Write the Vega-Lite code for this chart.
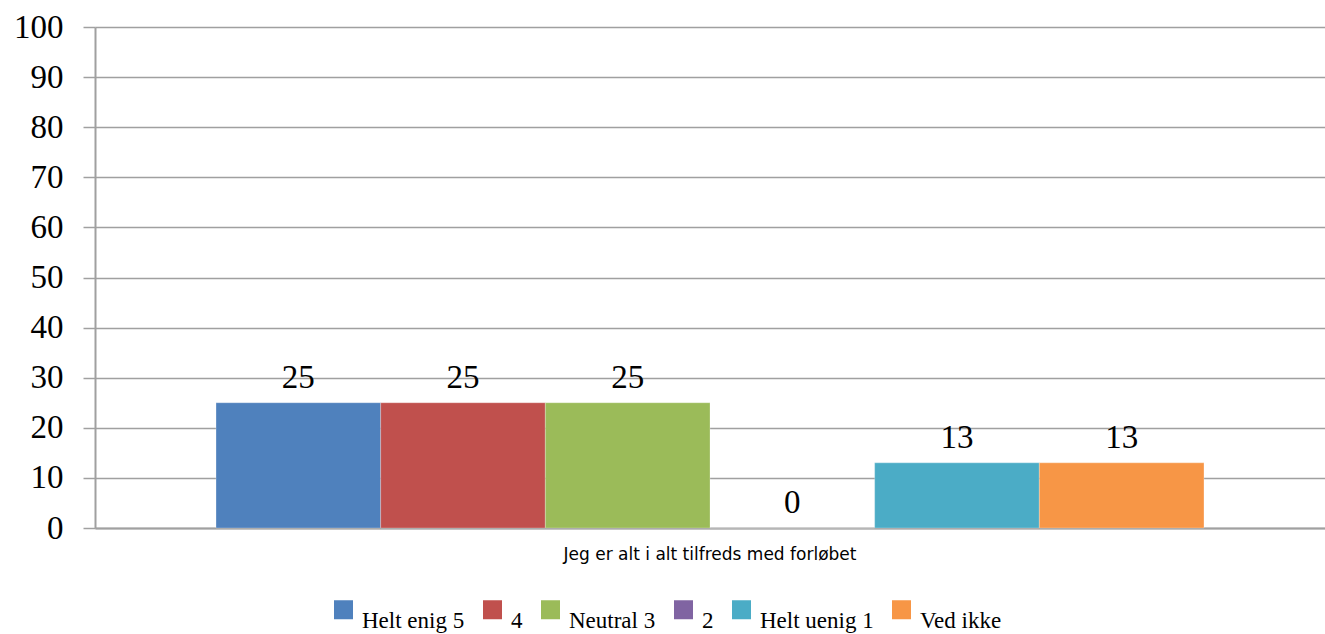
{
  "$schema": "https://vega.github.io/schema/vega-lite/v6.json",
  "autosize": "none",
  "width": 1230,
  "height": 501,
  "padding": {"left": 95, "top": 27, "right": 0, "bottom": 106},
  "background": "white",
  "data": {
    "values": [
      {"q": "Jeg er alt i alt tilfreds med forløbet", "series": "Helt enig 5", "value": 25},
      {"q": "Jeg er alt i alt tilfreds med forløbet", "series": "4", "value": 25},
      {"q": "Jeg er alt i alt tilfreds med forløbet", "series": "Neutral 3", "value": 25},
      {"q": "Jeg er alt i alt tilfreds med forløbet", "series": "2", "value": 0},
      {"q": "Jeg er alt i alt tilfreds med forløbet", "series": "Helt uenig 1", "value": 13},
      {"q": "Jeg er alt i alt tilfreds med forløbet", "series": "Ved ikke", "value": 13}
    ]
  },
  "config": {
    "view": {"stroke": null},
    "axis": {"domainColor": "#A0A0A0", "domainWidth": 2, "gridColor": "#A0A0A0", "gridWidth": 1.5, "tickColor": "#A0A0A0", "tickWidth": 1.5}
  },
  "encoding": {
    "x": {
      "field": "q", "type": "nominal",
      "scale": {"paddingOuter": 0.1225, "paddingInner": 0},
      "axis": {"title": null, "ticks": false, "labelAngle": 0, "labelLimit": 0, "labelFont": "DejaVu Sans", "labelFontSize": 17, "labelColor": "black", "labelPadding": 18, "domainColor": "#A0A0A0", "domainWidth": 2}
    },
    "xOffset": {
      "field": "series", "type": "nominal",
      "scale": {"domain": ["Helt enig 5", "4", "Neutral 3", "2", "Helt uenig 1", "Ved ikke"], "paddingInner": 0, "paddingOuter": 0}
    },
    "y": {
      "field": "value", "type": "quantitative",
      "scale": {"domain": [0, 100], "nice": false},
      "axis": {"title": null, "values": [0, 10, 20, 30, 40, 50, 60, 70, 80, 90, 100], "grid": true, "tickSize": 12, "labelFont": "Liberation Serif", "labelFontSize": 33, "labelColor": "black", "labelPadding": 20}
    }
  },
  "layer": [
    {
      "mark": {"type": "bar", "stroke": "white", "strokeOpacity": 0.25, "strokeWidth": 1},
      "encoding": {
        "color": {
          "field": "series", "type": "nominal",
          "scale": {"domain": ["Helt enig 5", "4", "Neutral 3", "2", "Helt uenig 1", "Ved ikke"], "range": ["#4F81BD", "#C0504D", "#9BBB59", "#8064A2", "#4BACC6", "#F79646"]},
          "legend": {
            "title": null, "orient": "none", "direction": "horizontal", "legendX": 237, "legendY": 571,
            "padding": 0, "symbolType": "square", "symbolSize": 361, "symbolStrokeWidth": 0, "symbolOpacity": 1,
            "labelFont": "Liberation Serif", "labelFontSize": 23, "labelColor": "black", "labelOffset": 7,
            "labelBaseline": "top", "columnPadding": 16, "columns": 6, "labelLimit": 0
          }
        }
      }
    },
    {
      "mark": {"type": "text", "baseline": "alphabetic", "dy": -15, "font": "Liberation Serif", "fontSize": 33, "color": "black"},
      "encoding": {
        "text": {"field": "value", "type": "quantitative"}
      }
    }
  ]
}
